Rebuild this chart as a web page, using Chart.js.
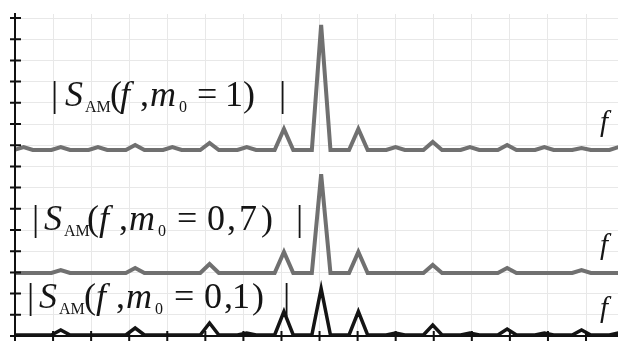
<!DOCTYPE html>
<html>
<head>
<meta charset="utf-8">
<script src="https://cdn.jsdelivr.net/npm/chart.js@4.4.0/dist/chart.umd.min.js"></script>
<style>
    html, body { margin: 0; padding: 0; background: #fff; }
    #wrap { position: relative; width: 618px; height: 341px; overflow: hidden; }
    #wrap canvas { position: absolute; left: 0; top: 0; }
    .lab {
        position: absolute;
        font-family: "Liberation Serif", "Times New Roman", Tinos, "DejaVu Serif", serif;
        font-size: 36px;
        line-height: 36px;
        color: #151515;
        white-space: nowrap;
    }
    .lab span { display: inline-block; }
    .lab .it { font-style: italic; }
    .lab .sb { font-size: 16px; position: relative; top: 6px; }
    .fl {
        position: absolute;
        font-family: "Liberation Serif", "Times New Roman", Tinos, "DejaVu Serif", serif;
        font-style: italic;
        font-size: 29px;
        line-height: 29px;
        color: #151515;
    }
</style>
</head>
<body>
<div id="wrap">
    <canvas id="spectra" width="618" height="341"></canvas>
    <div class="lab" style="left:51px; top:76px"><span style="width:14px">|</span><span class="it" style="width:20px">S</span><span class="sb" style="width:25px">AM</span><span style="width:10px">(</span><span class="it" style="width:20px">f</span><span style="width:10px">,</span><span class="it" style="width:29px">m</span><span class="sb" style="width:18px">0</span><span style="width:28px">=</span><span style="width:18px">1</span><span style="width:36px">)</span><span>|</span></div>
    <div class="lab" style="left:32px; top:200px"><span style="width:12px">|</span><span class="it" style="width:20px">S</span><span class="sb" style="width:23px">AM</span><span style="width:12px">(</span><span class="it" style="width:20px">f</span><span style="width:10px">,</span><span class="it" style="width:29px">m</span><span class="sb" style="width:19px">0</span><span style="width:30px">=</span><span style="width:20px">0</span><span style="width:12px">,</span><span style="width:22px">7</span><span style="width:35px">)</span><span>|</span></div>
    <div class="lab" style="left:27px; top:278px"><span style="width:12px">|</span><span class="it" style="width:20px">S</span><span class="sb" style="width:25px">AM</span><span style="width:12px">(</span><span class="it" style="width:20px">f</span><span style="width:10px">,</span><span class="it" style="width:29px">m</span><span class="sb" style="width:19px">0</span><span style="width:30px">=</span><span style="width:20px">0</span><span style="width:8px">,</span><span style="width:20px">1</span><span style="width:31px">)</span><span>|</span></div>
    <div class="fl" style="left:600px; top:107px">f</div>
    <div class="fl" style="left:600px; top:230px">f</div>
    <div class="fl" style="left:600px; top:293px">f</div>
</div>
<script>
// sample grid, in units of the modulation frequency, 4 samples per harmonic
const freq = [];
for (let i = 0; i <= 66; i++) freq.push(-8.25 + i * 0.25);

// |S_AM(f, m0 = 1)|, relative to the carrier of the top trace
const spectrumM1 = [0,
    0.024, 0, 0, 0,   // -8
    0.024, 0, 0, 0,   // -7
    0.024, 0, 0, 0,   // -6
    0.040, 0, 0, 0,   // -5
    0.024, 0, 0, 0,   // -4
    0.056, 0, 0, 0,   // -3
    0.024, 0, 0, 0,   // -2
    0.168, 0, 0, 0,   // -1
    1.000, 0, 0, 0,   //  0
    0.168, 0, 0, 0,   //  1
    0.024, 0, 0, 0,   //  2
    0.064, 0, 0, 0,   //  3
    0.024, 0, 0, 0,   //  4
    0.040, 0, 0, 0,   //  5
    0.024, 0, 0, 0,   //  6
    0.016, 0, 0, 0,   //  7
    0.024, 0];        //  8

// |S_AM(f, m0 = 0,7)|
const spectrumM07 = [0,
    0.000, 0, 0, 0,
    0.024, 0, 0, 0,
    0.000, 0, 0, 0,
    0.040, 0, 0, 0,
    0.000, 0, 0, 0,
    0.072, 0, 0, 0,
    0.000, 0, 0, 0,
    0.168, 0, 0, 0,
    0.790, 0, 0, 0,
    0.168, 0, 0, 0,
    0.000, 0, 0, 0,
    0.064, 0, 0, 0,
    0.000, 0, 0, 0,
    0.040, 0, 0, 0,
    0.000, 0, 0, 0,
    0.024, 0, 0, 0,
    0.000, 0];

// |S_AM(f, m0 = 0,1)|
const spectrumM01 = [0,
    0.000, 0, 0, 0,
    0.040, 0, 0, 0,
    0.000, 0, 0, 0,
    0.056, 0, 0, 0,
    0.000, 0, 0, 0,
    0.096, 0, 0, 0,
    0.016, 0, 0, 0,
    0.188, 0, 0, 0,
    0.370, 0, 0, 0,
    0.188, 0, 0, 0,
    0.016, 0, 0, 0,
    0.080, 0, 0, 0,
    0.016, 0, 0, 0,
    0.048, 0, 0, 0,
    0.016, 0, 0, 0,
    0.040, 0, 0, 0,
    0.016, 0];

const toPoints = (values) => values.map((v, i) => ({x: freq[i], y: v}));

// axis ticks that cross the axis line on both sides
const crossTicks = {
    id: "crossTicks",
    afterDatasetsDraw(chart) {
        const {ctx, scales: {x, y}} = chart;
        ctx.save();
        ctx.strokeStyle = "#111";
        ctx.lineWidth = 2;
        ctx.beginPath();
        y.ticks.forEach((t, i) => {
            const py = y.getPixelForTick(i);
            ctx.moveTo(x.left - 5, py);
            ctx.lineTo(x.left + 6, py);
        });
        x.ticks.forEach((t, i) => {
            const px = x.getPixelForTick(i);
            ctx.moveTo(px, y.bottom - 5);
            ctx.lineTo(px, y.bottom + 6);
        });
        ctx.stroke();
        ctx.beginPath();
        ctx.moveTo(x.left, y.top);
        ctx.lineTo(x.left, y.bottom + 6);
        ctx.stroke();
        ctx.restore();
    }
};

const line = (values, axis, color, width) => ({
    data: toPoints(values),
    xAxisID: "xd",
    yAxisID: axis,
    borderColor: color,
    borderWidth: width,
    pointRadius: 0,
    tension: 0,
    fill: false
});

new Chart(document.getElementById("spectra"), {
    type: "line",
    data: {
        datasets: [
            line(spectrumM1, "y1", "#707070", 4),
            line(spectrumM07, "y2", "#707070", 4),
            line(spectrumM01, "y3", "#141414", 3.5)
        ]
    },
    options: {
        responsive: false,
        animation: false,
        layout: {padding: {left: 15, top: 14, right: 0, bottom: 5}},
        plugins: {legend: {display: false}, tooltip: {enabled: false}},
        scales: {
            x: {
                type: "linear", position: "bottom", min: 0, max: 15.84,
                ticks: {display: false, stepSize: 1, includeBounds: false},
                grid: {color: "#e8e8e8", lineWidth: 1, drawTicks: false},
                border: {color: "#111", width: 2}
            },
            y: {
                type: "linear", position: "left", min: 0, max: 15.19,
                ticks: {display: false, stepSize: 1, includeBounds: false},
                grid: {color: "#e8e8e8", lineWidth: 1, drawTicks: false},
                border: {color: "#111", width: 2}
            },
            xd: {type: "linear", display: false, min: -8.23, max: 7.98},
            y1: {type: "linear", display: false, min: -1.488, max: 1.088},
            y2: {type: "linear", display: false, min: -0.504, max: 2.072},
            y3: {type: "linear", display: false, min: -0.008, max: 2.568}
        }
    },
    plugins: [crossTicks]
});
</script>
</body>
</html>
